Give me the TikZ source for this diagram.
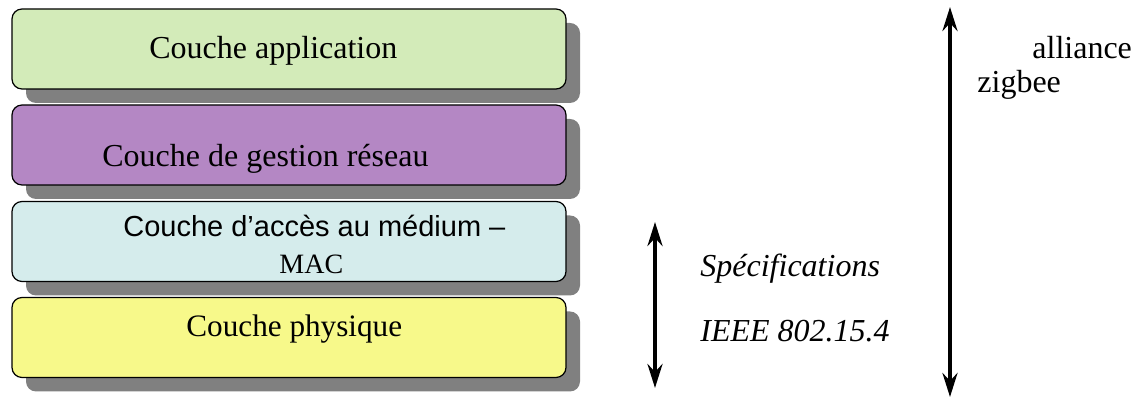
\documentclass[tikz,border=0pt]{standalone}
\usepackage{fontspec}
\setmainfont{Liberation Serif}
\setsansfont{Liberation Sans}
\usetikzlibrary{arrows.meta}
\usetikzlibrary{shadows}

\definecolor{vertappli}{HTML}{D3EBB9}
\definecolor{violetreseau}{HTML}{B487C4}
\definecolor{bleumac}{HTML}{D5ECEC}
\definecolor{jaunephy}{HTML}{F7F98A}

\begin{document}
\begin{tikzpicture}[x=0.5pt,y=-0.5pt,
    couche/.style={draw=black,semithick,rounded corners=5pt,
        minimum width=277pt,minimum height=40pt,inner sep=0pt,
        drop shadow={shadow xshift=7pt,shadow yshift=-7pt,fill=black!50,opacity=1}},
    texte/.style={font=\fontsize{16}{19}\selectfont,inner sep=0pt,anchor=base west},
    fleche/.style={line width=2pt,{Stealth[length=12pt,width=7.5pt,inset=4pt]}-{Stealth[length=12pt,width=7.5pt,inset=4pt]}}]
    \useasboundingbox (0,0) rectangle (1148,399);
    \node[couche,fill=vertappli] (appli) at (289,49) {};
    \node[couche,fill=violetreseau] (reseau) at (289,145) {};
    \node[couche,fill=bleumac] (mac) at (289,241.5) {};
    \node[couche,fill=jaunephy] (phy) at (289,337.5) {};
    \node[texte] (tappli) at (149,59) {Couche application};
    \node[texte] (treseau) at (102,167) {Couche de gestion réseau};
    \node[texte,font=\sffamily\fontsize{14.5}{17}\selectfont] (tmac) at (123,237) {Couche d’accès au médium –};
    \node[texte,font=\fontsize{14}{17}\selectfont] (tmac2) at (279,274) {MAC};
    \node[texte,font=\fontsize{15.6}{18}\selectfont] (tphy) at (186,337) {Couche physique};
    \coordinate (ieeehaut) at (655,222);
    \coordinate (ieeebas) at (655,388);
    \draw[fleche] (ieeehaut) -- (ieeebas);
    \coordinate (zighaut) at (950,7);
    \coordinate (zigbas) at (950,397);
    \draw[fleche] (zighaut) -- (zigbas);
    \node[texte,font=\itshape\fontsize{16}{19}\selectfont] (spec) at (700,277) {Spécifications};
    \node[texte,font=\itshape\fontsize{16}{19}\selectfont] (ieee) at (700,342) {IEEE 802.15.4};
    \node[texte] (alliance) at (1032,59) {alliance};
    \node[texte] (zigbee) at (977,93) {zigbee};
\end{tikzpicture}
\end{document}
